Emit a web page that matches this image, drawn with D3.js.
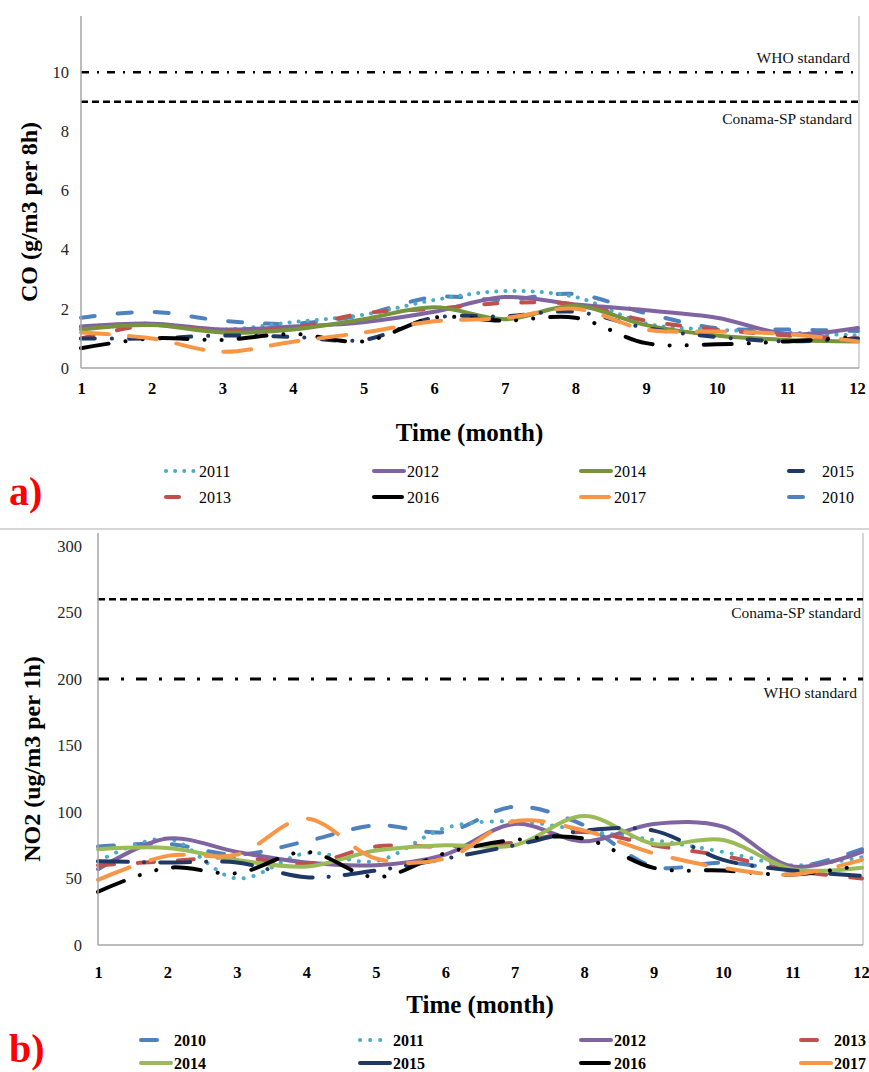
<!DOCTYPE html>
<html>
<head>
<meta charset="utf-8">
<script src="https://cdn.jsdelivr.net/npm/d3@7"></script>
<style>
  body { margin: 0; background: #fff; }
  svg { display: block; }
  text { font-family: "Liberation Serif", "Tinos", "Times New Roman", "DejaVu Serif", serif; }
</style>
</head>
<body>
<svg id="chart"></svg>
<script>
// ---- data ----
var months = [1, 2, 3, 4, 5, 6, 7, 8, 9, 10, 11, 12];

// a) CO (g/m3 per 8h)
var co2010 = [1.7, 1.9, 1.6, 1.5, 1.8, 2.4, 2.3, 2.5, 1.85, 1.35, 1.3, 1.25];
var co2011 = [1.4, 1.5, 1.3, 1.55, 1.8, 2.3, 2.6, 2.4, 1.5, 1.3, 1.2, 1.1];
var co2012 = [1.4, 1.5, 1.3, 1.4, 1.55, 1.9, 2.4, 2.15, 1.95, 1.7, 1.15, 1.35];
var co2013 = [1.0, 1.45, 1.25, 1.35, 1.85, 2.0, 2.2, 2.15, 1.6, 1.3, 1.1, 1.0];
var co2014 = [1.3, 1.45, 1.2, 1.3, 1.65, 2.05, 1.65, 2.1, 1.45, 1.1, 0.95, 0.9];
var co2015 = [1.0, 1.0, 1.1, 1.05, 0.95, 1.7, 1.75, 1.9, 1.35, 1.05, 0.9, 1.0];
var co2016 = [0.67, 1.0, 0.95, 1.15, 0.9, 1.7, 1.6, 1.7, 0.84, 0.8, 0.9, 1.05];
var co2017 = [1.2, 1.0, 0.55, 0.89, 1.2, 1.58, 1.69, 2.0, 1.3, 1.23, 1.15, 0.9];
var coTicks = [0, 2, 4, 6, 8, 10];
var coWho = 10, coConama = 9;

// b) NO2 (ug/m3 per 1h)
var no2010 = [74, 76, 68, 78, 90, 85, 104, 90, 59, 62, 58, 72];
var no2011 = [63, 80, 50, 69, 63, 88, 93, 86, 79, 70, 60, 66];
var no2012 = [57, 80, 70, 62, 60, 68, 91, 78, 91, 89, 59, 70];
var no2013 = [60, 63, 66, 61, 74, 74, 77, 85, 75, 67, 56, 50];
var no2014 = [72, 73, 64, 59, 71, 75, 75, 97, 76, 79, 57, 58];
var no2015 = [63, 62, 62, 51, 56, 65, 75, 86, 86, 64, 56, 52];
var no2016 = [40, 58, 54, 70, 51, 69, 79, 80, 58, 56, 53, 60];
var no2017 = [49, 67, 68, 95, 65, 65, 93, 86, 69, 58, 53, 64];
var noTicks = [0, 50, 100, 150, 200, 250, 300];
var noWho = 200, noConama = 260;

// ---- drawing ----
var width = 869, height = 1072;
var serif = '"Liberation Serif", "Tinos", "Times New Roman", "DejaVu Serif", serif';
var svg = d3.select('#chart').attr('width', width).attr('height', height);
var axisGray = '#a6a6a6';

var colors = {
  2010: '#4f81bd', 2011: '#4bacc6', 2012: '#8064a2', 2013: '#c0504d',
  2015: '#1f3864', 2016: '#000000', 2017: '#f79646'
};

var panelA = {
  left: 81, right: 858, bottom: 368, top: 16, domain: [0, 11.9],
  rightBorder: 859, ticks: coTicks, yPad: 12, xPad: 14,
  yTitle: 'CO (g/m3 per 8h)', yTitleX: 29, xTitleY: 441,
  refs: [
    {v: coWho, dash: '8 8 2 8', w: 2.5, label: 'WHO standard', lx: 850, ly: 63},
    {v: coConama, dash: '7 4', w: 2.5, label: 'Conama-SP standard', lx: 852, ly: 124}
  ],
  series: [
    {year: 2010, values: co2010, dash: '14 23'},
    {year: 2011, values: co2011, dash: '0.1 9'},
    {year: 2012, values: co2012, dash: null},
    {year: 2013, values: co2013, dash: '13 24'},
    {year: 2014, values: co2014, dash: null, color: '#77933c'},
    {year: 2015, values: co2015, dash: '14 17 0.1 17'},
    {year: 2016, values: co2016, dash: '28 17 0.1 17 0.1 17'},
    {year: 2017, values: co2017, dash: '28 20'}
  ],
  legendOrder: [2011, 2012, 2014, 2015, 2013, 2016, 2017, 2010],
  legendCols: [164, 372, 579, 787], legendRows: [471, 497], legendBold: false,
  tag: 'a)', tagY: 505
};

var panelB = {
  left: 98, right: 862, bottom: 945, top: 533, domain: null,
  rightBorder: 863, ticks: noTicks, yPad: 16, xPad: 21,
  yTitle: 'NO2 (ug/m3 per 1h)', yTitleX: 32, xTitleY: 1013,
  refs: [
    {v: noConama, dash: '7 4', w: 2.5, label: 'Conama-SP standard', lx: 861, ly: 618},
    {v: noWho, dash: '11 12 3 12', w: 3, label: 'WHO standard', lx: 857, ly: 698}
  ],
  series: [
    {year: 2010, values: no2010, dash: '16 21'},
    {year: 2011, values: no2011, dash: '0.1 10'},
    {year: 2012, values: no2012, dash: null},
    {year: 2013, values: no2013, dash: '16 24'},
    {year: 2014, values: no2014, dash: null, color: '#9bbb59'},
    {year: 2015, values: no2015, dash: '30 16 0.1 16'},
    {year: 2016, values: no2016, dash: '28 17 0.1 17 0.1 17'},
    {year: 2017, values: no2017, dash: '34 22'}
  ],
  legendOrder: [2010, 2011, 2012, 2013, 2014, 2015, 2016, 2017],
  legendCols: [139, 358, 579, 799], legendRows: [1040, 1063], legendBold: true,
  tag: 'b)', tagY: 1062
};

function drawPanel(p) {
  var g = svg.append('g');
  var x = d3.scaleLinear().domain([1, 12]).range([p.left, p.right]);
  var y;
  if (p.domain) {
    y = d3.scaleLinear().domain(p.domain).range([p.bottom, p.top]);
  } else {
    // 0 -> 945, 300 -> 546
    y = d3.scaleLinear().domain([0, 300]).range([p.bottom, 546]);
  }

  // right border of plot area
  g.append('line')
    .attr('x1', p.rightBorder).attr('x2', p.rightBorder)
    .attr('y1', p.top).attr('y2', p.bottom)
    .attr('stroke', '#c8c8c8').attr('stroke-width', 1.5);

  // reference lines
  p.refs.forEach(function(r) {
    g.append('line')
      .attr('x1', p.left).attr('x2', p.rightBorder)
      .attr('y1', y(r.v)).attr('y2', y(r.v))
      .attr('stroke', '#000').attr('stroke-width', r.w)
      .attr('stroke-dasharray', r.dash);
    g.append('text')
      .attr('x', r.lx).attr('y', r.ly)
      .attr('text-anchor', 'end')
      .style('font-size', '15.5px').attr('fill', '#111')
      .text(r.label);
  });

  // series lines
  var line = d3.line()
    .x(function(d) { return x(d.m); })
    .y(function(d) { return y(d.v); })
    .curve(d3.curveCatmullRom.alpha(0.5));

  p.series.forEach(function(s) {
    var pts = months.map(function(m, i) { return {m: m, v: s.values[i]}; });
    g.append('path')
      .attr('d', line(pts))
      .attr('fill', 'none')
      .attr('stroke', s.color || colors[s.year])
      .attr('stroke-width', 4)
      .attr('stroke-linecap', 'round')
      .attr('stroke-dasharray', s.dash);
  });

  // axes
  var yAxis = g.append('g')
    .attr('transform', 'translate(' + p.left + ',0)')
    .call(d3.axisLeft(y).tickValues(p.ticks).tickSize(0).tickPadding(p.yPad));
  yAxis.attr('font-family', null);
  yAxis.select('.domain').remove();
  yAxis.selectAll('text')
    .style('font-family', serif)
    .style('font-size', '16.5px').attr('fill', '#262626');

  g.append('line')
    .attr('x1', p.left).attr('x2', p.left)
    .attr('y1', p.top).attr('y2', p.bottom)
    .attr('stroke', axisGray).attr('stroke-width', 1.5);

  var xAxis = g.append('g')
    .attr('transform', 'translate(0,' + p.bottom + ')')
    .call(d3.axisBottom(x).tickValues(months).tickFormat(d3.format('d')).tickSize(0).tickPadding(p.xPad));
  xAxis.attr('font-family', null);
  xAxis.select('.domain').remove();
  xAxis.selectAll('text')
    .style('font-family', serif)
    .style('font-size', '16.5px').style('font-weight', 'bold').attr('fill', '#000');
  // last label sits on the window edge, as in the source
  xAxis.selectAll('.tick').filter(function(d) { return d === 12; }).select('text')
    .attr('text-anchor', 'middle').attr('dx', -1);

  g.append('line')
    .attr('x1', p.left).attr('x2', p.rightBorder)
    .attr('y1', p.bottom).attr('y2', p.bottom)
    .attr('stroke', axisGray).attr('stroke-width', 1.5);

  // titles
  g.append('text')
    .attr('x', (p.left + p.right) / 2).attr('y', p.xTitleY)
    .attr('text-anchor', 'middle')
    .style('font-size', '25px').style('font-weight', 'bold')
    .text('Time (month)');

  g.append('text')
    .attr('transform', 'translate(' + p.yTitleX + ',' + ((p.top + p.bottom) / 2 + 20) + ') rotate(-90)')
    .attr('text-anchor', 'middle')
    .attr('dy', '0.35em')
    .style('font-size', '24px').style('font-weight', 'bold')
    .text(p.yTitle);

  // legend
  p.legendOrder.forEach(function(year, i) {
    var s = p.series.filter(function(d) { return d.year === year; })[0];
    var x0 = p.legendCols[i % 4], yy = p.legendRows[Math.floor(i / 4)];
    g.append('line')
      .attr('x1', x0 + 2).attr('x2', x0 + 32)
      .attr('y1', yy).attr('y2', yy)
      .attr('stroke', s.color || colors[s.year])
      .attr('stroke-width', 4)
      .attr('stroke-linecap', 'round')
      .attr('stroke-dasharray', s.dash);
    g.append('text')
      .attr('x', x0 + 35).attr('y', yy).attr('dy', '0.35em')
      .style('font-size', '16px')
      .style('font-weight', p.legendBold ? 'bold' : 'normal')
      .text(year);
  });

  // panel tag
  g.append('text')
    .attr('x', 9).attr('y', p.tagY)
    .style('font-size', '40px').style('font-weight', 'bold')
    .attr('fill', '#ff0000')
    .text(p.tag);
}

drawPanel(panelA);
drawPanel(panelB);

// separator between the two panels
svg.append('line')
  .attr('x1', 0).attr('x2', width)
  .attr('y1', 529).attr('y2', 529)
  .attr('stroke', '#c8c8c8').attr('stroke-width', 1.5);
</script>
</body>
</html>
